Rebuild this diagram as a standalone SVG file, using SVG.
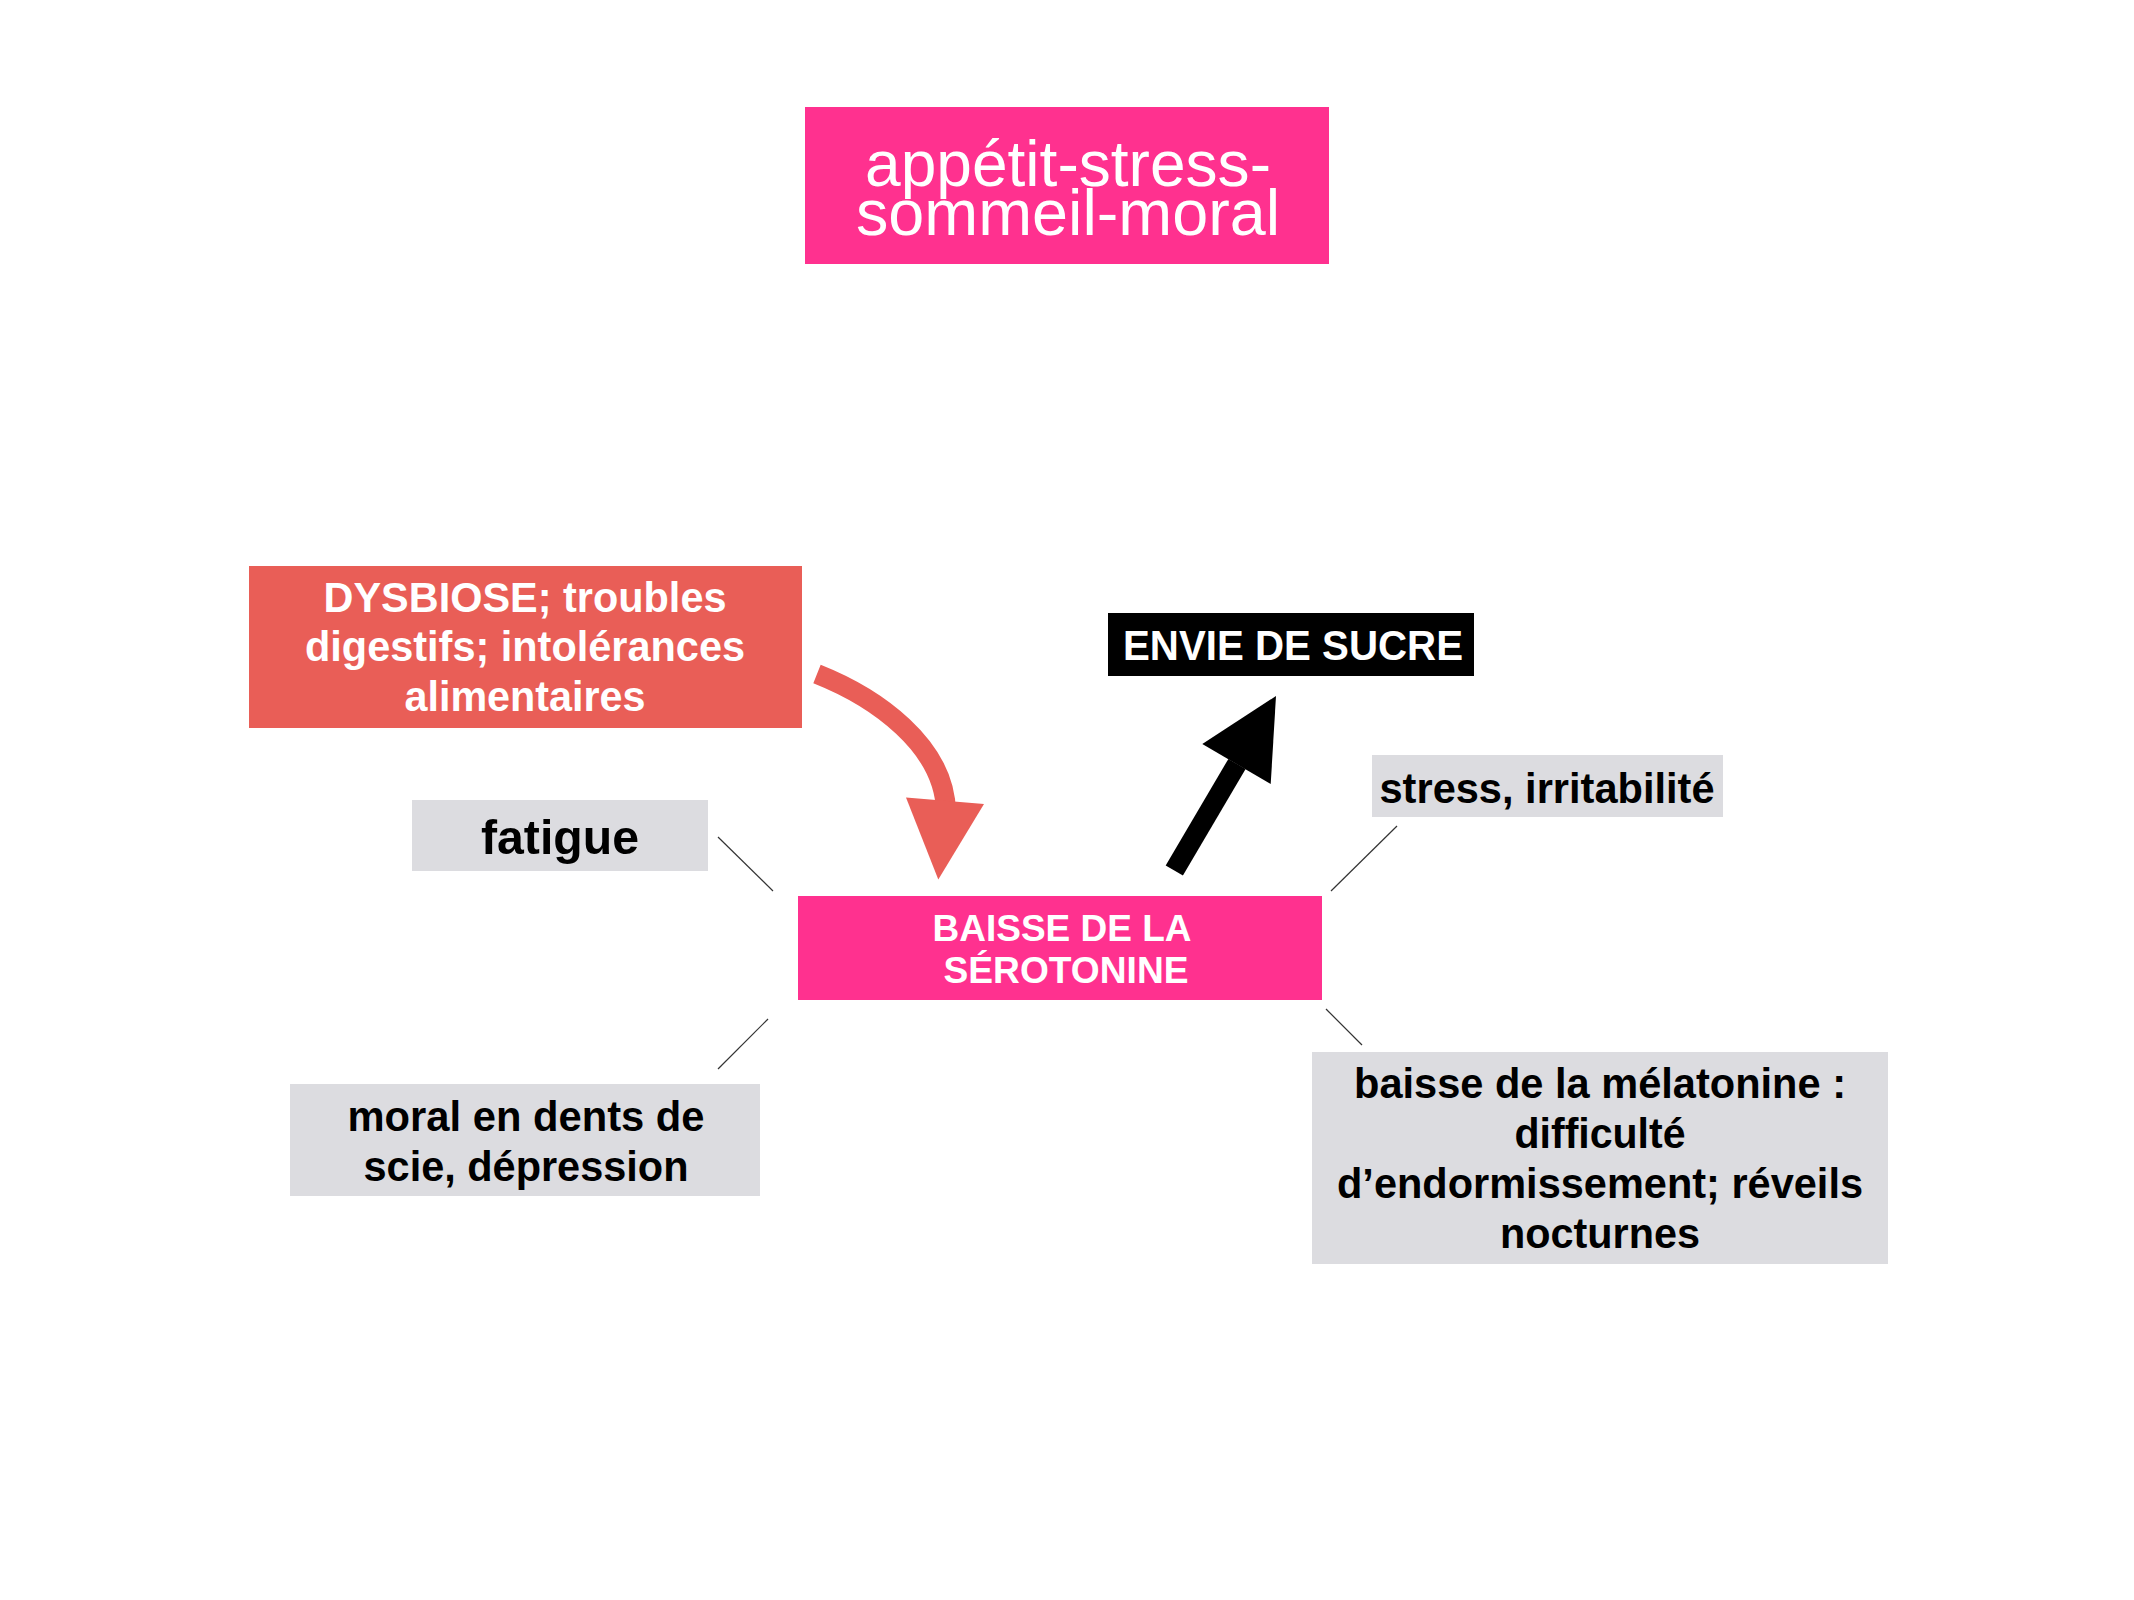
<svg xmlns="http://www.w3.org/2000/svg" width="2134" height="1600" viewBox="0 0 2134 1600">
  <style>
    .t { font-family: "Liberation Sans", Arial, Helvetica, sans-serif; text-anchor: middle; }
    .b { font-weight: bold; }
    .w { fill: #ffffff; }
    .k { fill: #000000; }
    .pink { fill: #FF318F; }
    .red { fill: #E95E57; }
    .gray { fill: #DCDCE0; }
    .conn { stroke: #333333; stroke-width: 1.2; fill: none; }
  </style>
  <rect x="0" y="0" width="2134" height="1600" fill="#ffffff"/>

  <g id="title">
    <rect class="pink" x="805" y="107" width="524" height="157"/>
    <text class="t w" font-size="64" x="1068" y="186" textLength="406" lengthAdjust="spacingAndGlyphs">appétit-stress-</text>
    <text class="t w" font-size="64" x="1068" y="235" textLength="424" lengthAdjust="spacingAndGlyphs">sommeil-moral</text>
  </g>

  <g id="dysbiose">
    <rect class="red" x="249" y="566" width="553" height="162"/>
    <text class="t b w" font-size="42" x="525" y="612" textLength="403" lengthAdjust="spacingAndGlyphs">DYSBIOSE; troubles</text>
    <text class="t b w" font-size="42" x="525" y="661" textLength="440" lengthAdjust="spacingAndGlyphs">digestifs; intolérances</text>
    <text class="t b w" font-size="42" x="525" y="711" textLength="241" lengthAdjust="spacingAndGlyphs">alimentaires</text>
  </g>

  <g id="envie">
    <rect x="1108" y="613" width="366" height="63" fill="#000000"/>
    <text class="t b w" font-size="42" x="1293" y="660" textLength="340" lengthAdjust="spacingAndGlyphs">ENVIE DE SUCRE</text>
  </g>

  <g id="fatigue">
    <rect class="gray" x="412" y="800" width="296" height="71"/>
    <text class="t b k" font-size="48" x="560" y="854" textLength="158" lengthAdjust="spacingAndGlyphs">fatigue</text>
  </g>

  <g id="stress">
    <rect class="gray" x="1372" y="755" width="351" height="62"/>
    <text class="t b k" font-size="42" x="1547" y="803" textLength="335" lengthAdjust="spacingAndGlyphs">stress, irritabilité</text>
  </g>

  <g id="serotonine">
    <rect class="pink" x="798" y="896" width="524" height="104"/>
    <text class="t b w" font-size="37" x="1062" y="941" textLength="259" lengthAdjust="spacingAndGlyphs">BAISSE DE LA</text>
    <text class="t b w" font-size="37" x="1066" y="983" textLength="245" lengthAdjust="spacingAndGlyphs">SÉROTONINE</text>
  </g>

  <g id="moral">
    <rect class="gray" x="290" y="1084" width="470" height="112"/>
    <text class="t b k" font-size="42" x="526" y="1131" textLength="357" lengthAdjust="spacingAndGlyphs">moral en dents de</text>
    <text class="t b k" font-size="42" x="526" y="1181" textLength="325" lengthAdjust="spacingAndGlyphs">scie, dépression</text>
  </g>

  <g id="melatonine">
    <rect class="gray" x="1312" y="1052" width="576" height="212"/>
    <text class="t b k" font-size="42" x="1600" y="1098" textLength="492" lengthAdjust="spacingAndGlyphs">baisse de la mélatonine :</text>
    <text class="t b k" font-size="42" x="1600" y="1148" textLength="171" lengthAdjust="spacingAndGlyphs">difficulté</text>
    <text class="t b k" font-size="42" x="1600" y="1198" textLength="526" lengthAdjust="spacingAndGlyphs">d’endormissement; réveils</text>
    <text class="t b k" font-size="42" x="1600" y="1248" textLength="200" lengthAdjust="spacingAndGlyphs">nocturnes</text>
  </g>

  <g id="connectors">
    <path d="M817,674 C875,697 945,745 946,812" stroke="#E95E57" stroke-width="20" fill="none"/>
    <polygon points="906,797.5 984,804 938.3,879.5" fill="#E95E57"/>
    <line x1="1174.3" y1="870.5" x2="1237" y2="764" stroke="#000000" stroke-width="20"/>
    <polygon points="1202.3,744 1276,696 1270.7,784" fill="#000000"/>
    <line class="conn" x1="718" y1="837" x2="773" y2="891"/>
    <line class="conn" x1="1397" y1="826" x2="1331" y2="891"/>
    <line class="conn" x1="768" y1="1019" x2="718" y2="1069"/>
    <line class="conn" x1="1326" y1="1009" x2="1362" y2="1045"/>
  </g>
</svg>
